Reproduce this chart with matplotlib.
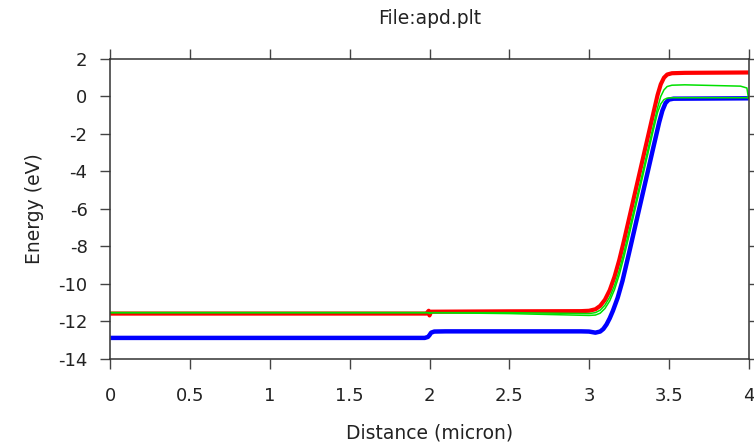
import matplotlib
matplotlib.use("Agg")
from matplotlib import pyplot as plt

# band edges (distance in micron, energy in eV)
red_x = [0.0, 1.98, 1.995, 2.0, 2.01, 2.5, 2.95, 3.0, 3.04, 3.07, 3.10, 3.13, 3.16,
         3.19, 3.22, 3.25, 3.30, 3.35, 3.40, 3.43, 3.45, 3.47, 3.49, 3.52, 3.6, 4.0]
red_y = [-11.6, -11.6, -11.45, -11.7, -11.5, -11.48, -11.47, -11.45, -11.37, -11.19,
         -10.86, -10.35, -9.63, -8.73, -7.68, -6.57, -4.72, -2.87, -1.02, 0.08, 0.65,
         1.0, 1.17, 1.24, 1.26, 1.28]

blue_x = [0.0, 1.97, 1.99, 2.0, 2.01, 2.03, 2.1, 2.5, 2.95, 3.0, 3.04, 3.07, 3.09,
          3.11, 3.13, 3.15, 3.18, 3.21, 3.25, 3.30, 3.35, 3.40, 3.44, 3.46, 3.48,
          3.50, 3.53, 4.0]
blue_y = [-12.9, -12.9, -12.85, -12.75, -12.62, -12.56, -12.55, -12.55, -12.55, -12.56,
          -12.62, -12.56, -12.42, -12.18, -11.85, -11.45, -10.75, -9.85, -8.4, -6.55,
          -4.7, -2.85, -1.38, -0.76, -0.35, -0.17, -0.12, -0.1]

green_a_x = [0.0, 1.99, 2.0, 2.02, 2.5, 3.0, 3.04, 3.07, 3.10, 3.13, 3.16, 3.19, 3.22,
             3.25, 3.30, 3.35, 3.40, 3.43, 3.45, 3.47, 3.49, 3.52, 3.6, 3.95, 3.99, 4.0]
green_a_y = [-11.55, -11.55, -11.6, -11.55, -11.55, -11.6, -11.55, -11.42, -11.15,
             -10.72, -10.1, -9.28, -8.3, -7.22, -5.4, -3.55, -1.7, -0.6, 0.0, 0.35,
             0.53, 0.6, 0.62, 0.55, 0.45, -0.1]

green_b_x = [0.0, 2.0, 2.5, 3.0, 3.04, 3.07, 3.10, 3.13, 3.16, 3.19, 3.22, 3.25, 3.30,
             3.35, 3.40, 3.43, 3.45, 3.47, 3.49, 3.52, 4.0]
green_b_y = [-11.55, -11.55, -11.6, -11.7, -11.68, -11.58, -11.33, -10.92, -10.32,
             -9.52, -8.55, -7.47, -5.62, -3.77, -1.92, -0.85, -0.4, -0.17, -0.09, -0.07,
             -0.07]

xticks = [0, 0.5, 1, 1.5, 2, 2.5, 3, 3.5, 4]
yticks = [2, 0, -2, -4, -6, -8, -10, -12, -14]

fig = plt.figure(figsize=(7.54, 4.46), dpi=100)
ax = fig.add_axes([110.5 / 754, 1 - 358.5 / 446, 638 / 754, 299.5 / 446])

ax.plot(red_x, red_y, color='#ff0000', lw=3.0, solid_capstyle='butt')
ax.plot(blue_x, blue_y, color='#0000ff', lw=3.2, solid_capstyle='butt')
ax.plot(green_b_x, green_b_y, color='#00e000', lw=1.1)
ax.plot(green_a_x, green_a_y, color='#00e000', lw=1.1)

ax.set_xlim(0, 4)
ax.set_ylim(-14, 2)
ax.set_xticks(xticks)
ax.set_xticklabels(['0', '0.5', '1', '1.5', '2', '2.5', '3', '3.5', '4'])
ax.set_yticks(yticks)
ax.set_yticklabels([str(v) for v in yticks])

ax.tick_params(direction='out', length=7.5, width=1.0, color='#444444',
               top=True, right=True, labelsize=13, labelcolor='#222222')
ax.tick_params(axis='x', pad=13)
ax.tick_params(axis='y', pad=9)
for s in ax.spines.values():
    s.set_linewidth(1.1)
    s.set_color('#333333')

ax.set_xlabel('Distance (micron)', fontsize=13.5, color='#222222', labelpad=13)
ax.set_ylabel('Energy (eV)', fontsize=13.5, color='#222222', labelpad=10)
ax.set_title('File:apd.plt', fontsize=13.5, color='#222222', pad=25)

fig.savefig('out.png', dpi=100)
